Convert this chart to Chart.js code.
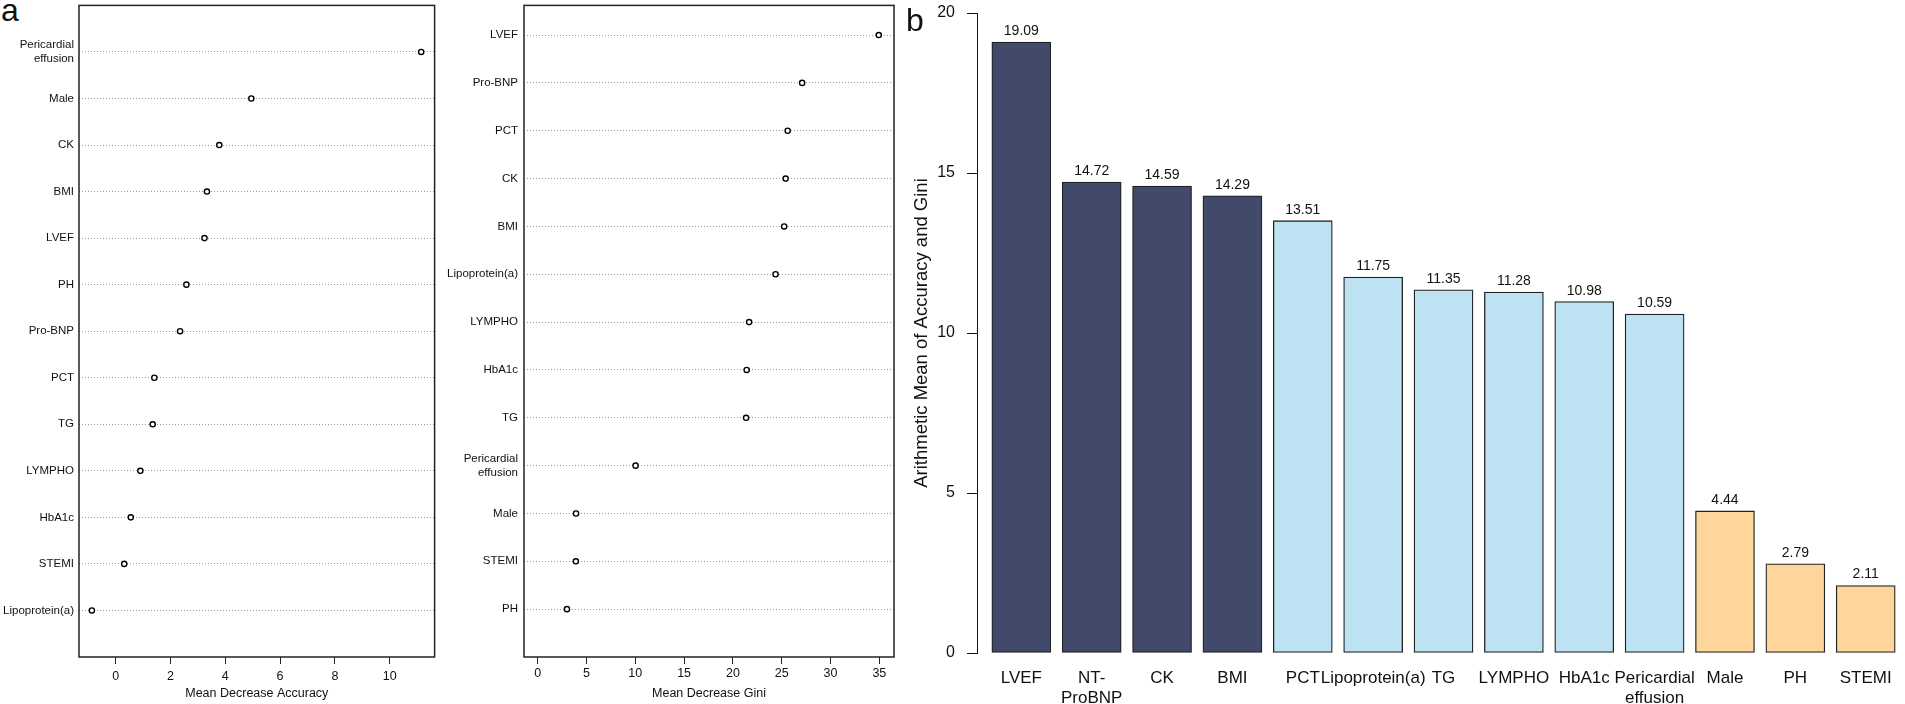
<!DOCTYPE html>
<html>
<head>
<meta charset="utf-8">
<script src="https://cdn.jsdelivr.net/npm/chart.js@4.4.1/dist/chart.umd.min.js"></script>
<style>
  body { margin: 0; background: #fff; width: 1905px; height: 704px; overflow: hidden; position: relative; font-family: "Liberation Sans", Arial, sans-serif; }
  canvas { position: absolute; top: 0; }
  .tag { position: absolute; font-size: 32px; line-height: 32px; color: #111; }
</style>
</head>
<body>
<div class="tag" style="left:1px; top:-6px;">a</div>
<canvas id="accChart" width="440" height="704" style="left:0"></canvas>
<canvas id="giniChart" width="460" height="704" style="left:440px"></canvas>
<canvas id="meanChart" width="1005" height="704" style="left:900px"></canvas>
<div class="tag" style="left:906px; top:4px;">b</div>
<script>
// Panel a (left): Mean Decrease Accuracy, top row first
const accLabels = ["Pericardial\neffusion", "Male", "CK", "BMI", "LVEF", "PH", "Pro-BNP", "PCT", "TG", "LYMPHO", "HbA1c", "STEMI", "Lipoprotein(a)"];
const accValues = [11.15, 4.95, 3.78, 3.33, 3.24, 2.58, 2.35, 1.41, 1.35, 0.9, 0.55, 0.31, -0.87];
const accTicks = [0, 2, 4, 6, 8, 10];

// Panel a (right): Mean Decrease Gini, top row first
const giniLabels = ["LVEF", "Pro-BNP", "PCT", "CK", "BMI", "Lipoprotein(a)", "LYMPHO", "HbA1c", "TG", "Pericardial\neffusion", "Male", "STEMI", "PH"];
const giniValues = [34.94, 27.09, 25.61, 25.4, 25.25, 24.37, 21.66, 21.41, 21.35, 10.03, 3.93, 3.91, 3.0];
const giniTicks = [0, 5, 10, 15, 20, 25, 30, 35];

// Panel b: arithmetic mean of accuracy and gini
const meanLabels = ["LVEF", "NT-\nProBNP", "CK", "BMI", "PCT", "Lipoprotein(a)", "TG", "LYMPHO", "HbA1c", "Pericardial\neffusion", "Male", "PH", "STEMI"];
const meanValues = [19.09, 14.72, 14.59, 14.29, 13.51, 11.75, 11.35, 11.28, 10.98, 10.59, 4.44, 2.79, 2.11];
const meanGroups = ["high", "high", "high", "high", "mid", "mid", "mid", "mid", "mid", "mid", "low", "low", "low"];
const meanTicks = [0, 5, 10, 15, 20];

const groupColors = { high: "#414a6b", mid: "#bde3f3", low: "#fed69b" };

Chart.defaults.font.family = '"Liberation Sans", Arial, sans-serif';
Chart.defaults.color = "#111";

// box around the dot charts (R style frame)
const framePlugin = {
  id: "frame",
  beforeDatasetsDraw(chart) {
    const { ctx, chartArea: a } = chart;
    ctx.save();
    ctx.strokeStyle = "#222";
    ctx.lineWidth = 1.5;
    ctx.strokeRect(a.left, a.top, a.right - a.left, a.bottom - a.top);
    ctx.restore();
  },
};

// numbers above the bars
const valueLabelPlugin = {
  id: "valueLabels",
  afterDatasetsDraw(chart) {
    const { ctx } = chart;
    const bars = chart.getDatasetMeta(0).data;
    ctx.save();
    ctx.font = '14px "Liberation Sans", Arial, sans-serif';
    ctx.fillStyle = "#111";
    ctx.textAlign = "center";
    ctx.textBaseline = "alphabetic";
    bars.forEach((bar, i) => {
      ctx.fillText(meanValues[i].toFixed(2), bar.x, bar.y - 7);
    });
    ctx.restore();
  },
};

function makeDotChart(id, labels, values, ticks, opts) {
  const n = labels.length;
  const points = values.map((v, i) => ({ x: v, y: n - i }));
  return new Chart(document.getElementById(id), {
    type: "scatter",
    data: {
      datasets: [{
        data: points,
        pointStyle: "circle",
        pointRadius: 2.6,
        pointBorderWidth: 1.4,
        borderColor: "#000",
        backgroundColor: "#fff",
      }],
    },
    options: {
      responsive: false,
      animation: false,
      layout: { padding: { top: opts.top, right: opts.right, left: 0, bottom: 0 } },
      plugins: { legend: { display: false }, tooltip: { enabled: false } },
      scales: {
        x: {
          type: "linear",
          min: opts.xMin,
          max: opts.xMax,
          afterBuildTicks: (s) => { s.ticks = ticks.map((v) => ({ value: v })); },
          afterFit: (s) => { s.height = 704 - opts.bottom; s.paddingLeft = 0; s.paddingRight = 0; },
          grid: { drawOnChartArea: false, tickLength: 7, color: "#222", lineWidth: 1 },
          border: { display: false },
          ticks: { font: { size: 12.5 }, padding: opts.tickPad, maxRotation: 0 },
          title: { display: true, text: opts.title, font: { size: 12.5 }, padding: { top: 0, bottom: 3 } },
        },
        y: {
          type: "linear",
          min: 0,
          max: opts.yMax,
          afterBuildTicks: (s) => { s.ticks = labels.map((l, i) => ({ value: n - i })); },
          afterFit: (s) => { s.width = opts.left; s.paddingTop = 0; s.paddingBottom = 0; },
          grid: { color: "#9a9a9a", lineWidth: 1, drawTicks: false },
          border: { display: false, dash: [1, 2] },
          ticks: { font: { size: 11.5 }, padding: opts.labelPad, callback: (v) => labels[n - v].split("\n") },
        },
      },
    },
    plugins: [framePlugin],
  });
}

document.addEventListener("DOMContentLoaded", function () {
  makeDotChart("accChart", accLabels, accValues, accTicks, {
    left: 79, right: -1, top: 4, bottom: 657, yMax: 14,
    xMin: -1.34, xMax: 11.64, tickPad: 5, labelPad: 5,
    title: "Mean Decrease Accuracy",
  });

  makeDotChart("giniChart", giniLabels, giniValues, giniTicks, {
    left: 84, right: 6, top: 3.5, bottom: 657, yMax: 13.62,
    xMin: -1.4, xMax: 36.5, tickPad: 2, labelPad: 6,
    title: "Mean Decrease Gini",
  });

  new Chart(document.getElementById("meanChart"), {
    type: "bar",
    data: {
      datasets: [{
        data: meanValues.map((v, i) => ({ x: i, y: v })),
        backgroundColor: meanGroups.map((g) => groupColors[g]),
        borderColor: "#222",
        borderWidth: 1.3,
        borderSkipped: false,
        barThickness: 59,
      }],
    },
    options: {
      responsive: false,
      animation: false,
      layout: { padding: { top: 13, right: 2, left: 0, bottom: 0 } },
      plugins: { legend: { display: false }, tooltip: { enabled: false } },
      scales: {
        x: {
          type: "linear",
          offset: false,
          min: -0.63,
          max: 12.53,
          afterBuildTicks: (s) => { s.ticks = meanLabels.map((l, i) => ({ value: i })); },
          afterFit: (s) => { s.height = 51; s.paddingLeft = 0; s.paddingRight = 0; },
          grid: { display: false, offset: false },
          border: { display: false },
          ticks: {
            autoSkip: false, maxRotation: 0, minRotation: 0,
            font: { size: 17 }, padding: 7,
            callback: (v) => meanLabels[v].split("\n"),
          },
        },
        y: {
          min: 0,
          max: 20,
          afterBuildTicks: (s) => { s.ticks = meanTicks.map((v) => ({ value: v })); },
          afterFit: (s) => { s.width = 77; s.paddingTop = 0; s.paddingBottom = 0; },
          grid: { drawOnChartArea: false, tickLength: 10, color: "#111" },
          border: { display: true, color: "#111", width: 1 },
          ticks: { font: { size: 16 }, padding: 12 },
          title: {
            display: true,
            text: "Arithmetic Mean of Accuracy and Gini",
            font: { size: 18.5 },
            padding: { top: 10.5, bottom: 0 },
          },
        },
      },
    },
    plugins: [valueLabelPlugin],
  });
});
</script>
</body>
</html>
